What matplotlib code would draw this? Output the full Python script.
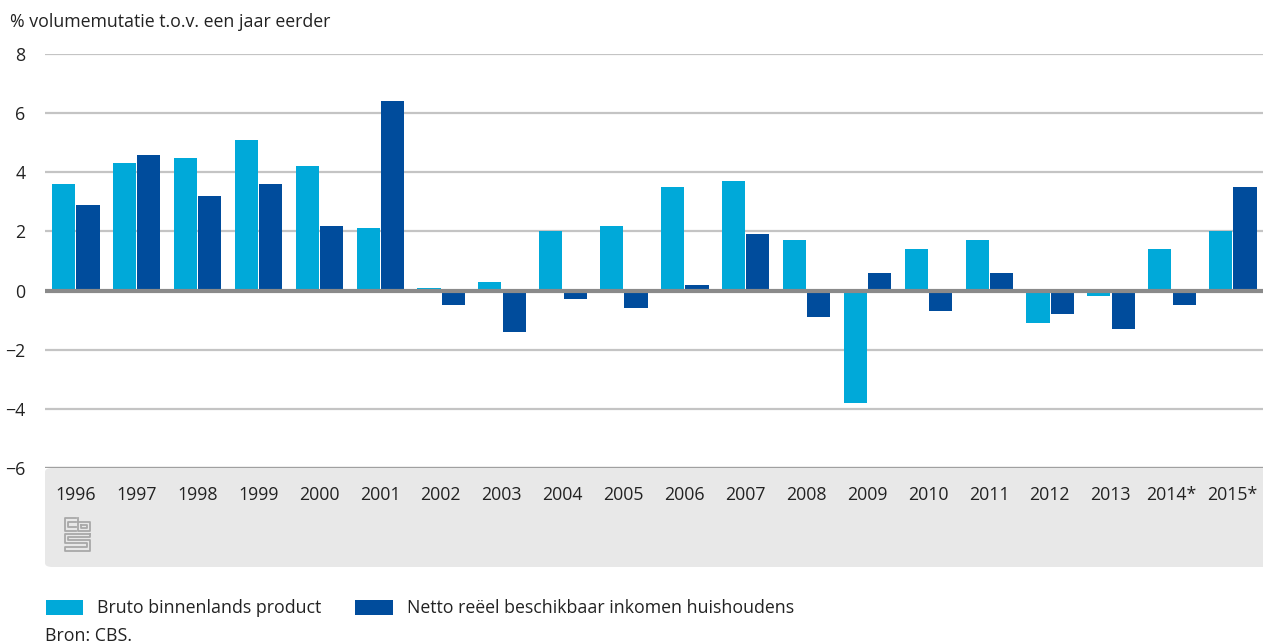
import matplotlib
matplotlib.use("Agg")
import matplotlib.pyplot as plt
import numpy as np
from matplotlib.patches import FancyBboxPatch, Rectangle
from matplotlib.lines import Line2D

plt.rcParams['font.family'] = ['Open Sans', 'DejaVu Sans']

years = ['1996', '1997', '1998', '1999', '2000', '2001', '2002', '2003', '2004', '2005',
         '2006', '2007', '2008', '2009', '2010', '2011', '2012', '2013', '2014*', '2015*']
bbp = [3.6, 4.3, 4.5, 5.1, 4.2, 2.1, 0.1, 0.3, 2.0, 2.2,
       3.5, 3.7, 1.7, -3.8, 1.4, 1.7, -1.1, -0.2, 1.4, 2.0]
inkomen = [2.9, 4.6, 3.2, 3.6, 2.2, 6.4, -0.5, -1.4, -0.3, -0.6,
           0.2, 1.9, -0.9, 0.6, -0.7, 0.6, -0.8, -1.3, -0.5, 3.5]
yticks = [-6, -4, -2, 0, 2, 4, 6, 8]

c_bbp = '#00a9d9'
c_ink = '#004c9c'
txt = '#222222'
fs = 12.8

W, H = 1263, 643
fig = plt.figure(figsize=(W / 100, H / 100), dpi=100)

# plot area in pixels
x0, x1, ytop, ybot = 45, 1263, 54, 468
ax = fig.add_axes([x0 / W, 1 - ybot / H, (x1 - x0) / W, (ybot - ytop) / H])
ax.set_zorder(2)

# grey band under the axis
band = FancyBboxPatch((x0 / W, 1 - 567 / H), (x1 - x0) / W + 0.01, (567 - ybot) / H,
                      boxstyle="round,pad=0,rounding_size=0.006", transform=fig.transFigure,
                      facecolor='#e8e8e8', edgecolor='none', zorder=0)
fig.patches.append(band)

x = np.arange(len(years))
bw = 0.38
ax.bar(x - bw / 2 - 0.005, bbp, bw, color=c_bbp, zorder=3)
ax.bar(x + bw / 2 + 0.015, inkomen, bw, color=c_ink, zorder=3)

ax.set_xlim(-0.5, len(years) - 0.5)
ax.set_ylim(-6, 8)
ax.set_yticks(yticks)
ax.set_yticklabels([str(v).replace('-', '\u2212') for v in yticks], fontsize=fs, color=txt)
ax.grid(axis='y', color='#c4c4c4', linewidth=1.6, zorder=0)
ax.axhline(0, color='#8a8a8a', linewidth=3, zorder=4)
ax.axhline(-6, color='#a0a0a0', linewidth=1.6, zorder=1)
ax.set_xticks(x)
ax.set_xticklabels(years, fontsize=fs, color=txt)
ax.tick_params(axis='x', length=0, pad=13)
ax.tick_params(axis='y', length=0, pad=14)
for s in ax.spines.values():
    s.set_visible(False)
ax.set_facecolor('none')
ax.set_axisbelow(True)

fig.text(10 / W, 1 - 22 / H, '% volumemutatie t.o.v. een jaar eerder', fontsize=fs,
         color=txt, va='center', ha='left')

# simple cbs logo
lc = '#a8a8a8'
def seg(xs, ys):
    fig.add_artist(Line2D([v / W for v in xs], [1 - v / H for v in ys], color=lc, lw=1.3,
                          transform=fig.transFigure, zorder=3))
# c
seg([76, 65, 65, 76], [518, 518, 531, 531])
seg([76, 68, 68, 76], [522, 522, 527, 527])
# b
seg([78, 78, 90, 90, 78], [518, 531, 531, 522, 522])
seg([81, 87, 87, 81, 81], [525, 525, 528, 528, 525])
# s
seg([90, 65, 65, 87, 87, 65, 65, 90, 90, 68, 68, 90, 90],
    [534, 534, 543, 543, 547, 547, 551, 551, 540, 540, 537, 537, 534])

# legend
fig.patches.append(Rectangle((46 / W, 1 - 615 / H), 37 / W, 15 / H, transform=fig.transFigure,
                             facecolor=c_bbp, edgecolor='none'))
fig.text(97 / W, 1 - 608 / H, 'Bruto binnenlands product', fontsize=fs, color=txt, va='center')
fig.patches.append(Rectangle((355 / W, 1 - 615 / H), 38 / W, 15 / H, transform=fig.transFigure,
                             facecolor=c_ink, edgecolor='none'))
fig.text(407 / W, 1 - 608 / H, 'Netto reëel beschikbaar inkomen huishoudens', fontsize=fs,
         color=txt, va='center')
fig.text(45 / W, 1 - 636 / H, 'Bron: CBS.', fontsize=fs, color=txt, va='center')

fig.savefig('out.png', dpi=100)
